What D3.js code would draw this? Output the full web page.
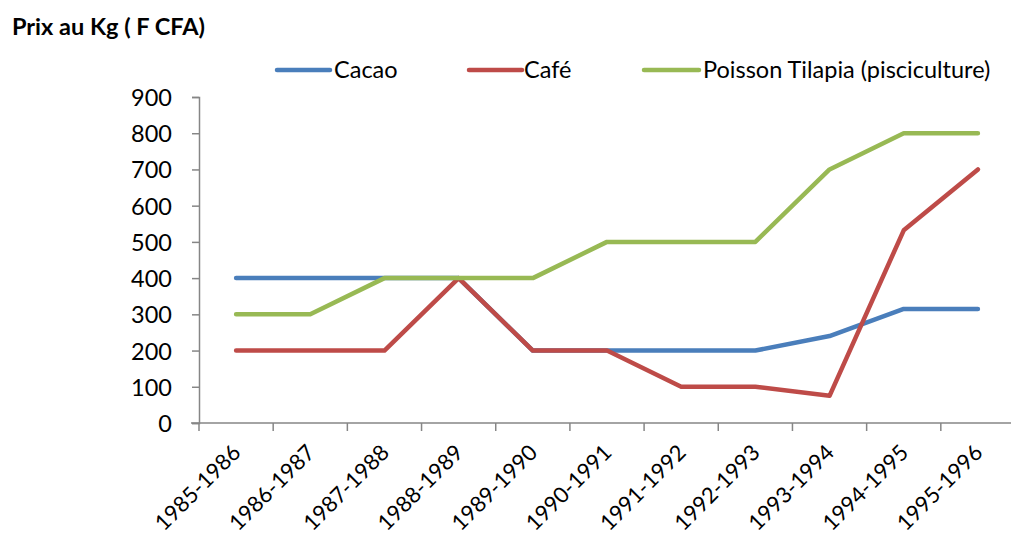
<!DOCTYPE html>
<html>
<head>
<meta charset="utf-8">
<script src="https://cdn.jsdelivr.net/npm/d3@7"></script>
<style>
  html, body { margin: 0; padding: 0; background: #fff; }
  svg { display: block; }
  text { font-family: Lato, "Open Sans", sans-serif; fill: #000; }
</style>
</head>
<body>
<svg id="chart" width="1011" height="539"></svg>
<script>
// Campagnes agricoles
const campagnes = ["1985-1986","1986-1987","1987-1988","1988-1989","1989-1990",
  "1990-1991","1991-1992","1992-1993","1993-1994","1994-1995","1995-1996"];

// Prix au kg (F CFA) par produit
const cacao   = [400, 400, 400, 400, 200, 200, 200, 200, 240, 315, 315];
const cafe    = [200, 200, 200, 400, 200, 200, 100, 100, 75, 532, 700];
const tilapia = [300, 300, 400, 400, 400, 500, 500, 500, 700, 800, 800];

const yTicks = [0, 100, 200, 300, 400, 500, 600, 700, 800, 900];

const series = [
  { name: "Cacao", values: cacao, color: "#4a7ebb" },
  { name: "Café", values: cafe, color: "#be4b48" },
  { name: "Poisson Tilapia (pisciculture)", values: tilapia, color: "#98b954" }
];

const svg = d3.select("#chart");
const plotLeft = 199, plotRight = 1015, plotTop = 97, plotBottom = 423;
const fontSize = "23.5px";

const x = d3.scaleBand().domain(campagnes).range([plotLeft, plotRight]).padding(0);
const y = d3.scaleLinear().domain([0, 900]).range([plotBottom, plotTop]);

const axisColor = "#868686";

// Axe vertical
const yAxis = svg.append("g")
  .attr("transform", `translate(${plotLeft},0)`)
  .call(d3.axisLeft(y).tickValues(yTicks).tickSize(7).tickPadding(20).tickFormat(d3.format("d")));
yAxis.select(".domain").attr("stroke", axisColor).attr("stroke-width", 1.5);
yAxis.selectAll(".tick line").attr("stroke", axisColor).attr("stroke-width", 1.5);
yAxis.selectAll(".tick text")
  .style("font-family", "Lato, 'Open Sans', sans-serif")
  .style("font-size", fontSize).attr("fill", "#000").attr("dy", "0.36em");

// Axe horizontal : graduations entre les catégories
const xg = svg.append("g").attr("transform", `translate(0,${plotBottom})`);
xg.append("line").attr("x1", plotLeft - 8).attr("x2", plotRight)
  .attr("stroke", axisColor).attr("stroke-width", 1.5);
const bounds = campagnes.map(c => x(c)).concat([plotRight]);
xg.selectAll("line.tk").data(bounds).join("line").attr("class", "tk")
  .attr("x1", d => d).attr("x2", d => d).attr("y1", 0).attr("y2", 8)
  .attr("stroke", axisColor).attr("stroke-width", 1.5);
xg.selectAll("text.lbl").data(campagnes).join("text").attr("class", "lbl")
  .attr("transform", d => `translate(${x(d) + x.bandwidth() / 2 + 6},${31}) rotate(-45)`)
  .attr("text-anchor", "end")
  .style("font-size", "22px")
  .text(d => d);

// Courbes
const line = d3.line()
  .x((d, i) => x(campagnes[i]) + x.bandwidth() / 2)
  .y(d => y(d));

svg.append("g").selectAll("path").data(series).join("path")
  .attr("d", s => line(s.values))
  .attr("fill", "none")
  .attr("stroke", s => s.color)
  .attr("stroke-width", 4.5)
  .attr("stroke-linecap", "round")
  .attr("stroke-linejoin", "round");

// Titre de l'axe
svg.append("text").attr("x", 12).attr("y", 35)
  .style("font-weight", "bold").style("font-size", fontSize)
  .text("Prix au Kg ( F CFA)");

// Légende
const legendPos = [
  { x1: 277, x2: 330, tx: 334 },
  { x1: 469, x2: 522, tx: 524 },
  { x1: 644, x2: 699, tx: 703 }
];
const lg = svg.append("g");
series.forEach((s, i) => {
  const p = legendPos[i];
  lg.append("line").attr("x1", p.x1).attr("x2", p.x2).attr("y1", 70).attr("y2", 70)
    .attr("stroke", s.color).attr("stroke-width", 4.5).attr("stroke-linecap", "round");
  lg.append("text").attr("x", p.tx).attr("y", 70).attr("dy", "0.36em")
    .style("font-size", fontSize).text(s.name);
});
</script>
</body>
</html>
